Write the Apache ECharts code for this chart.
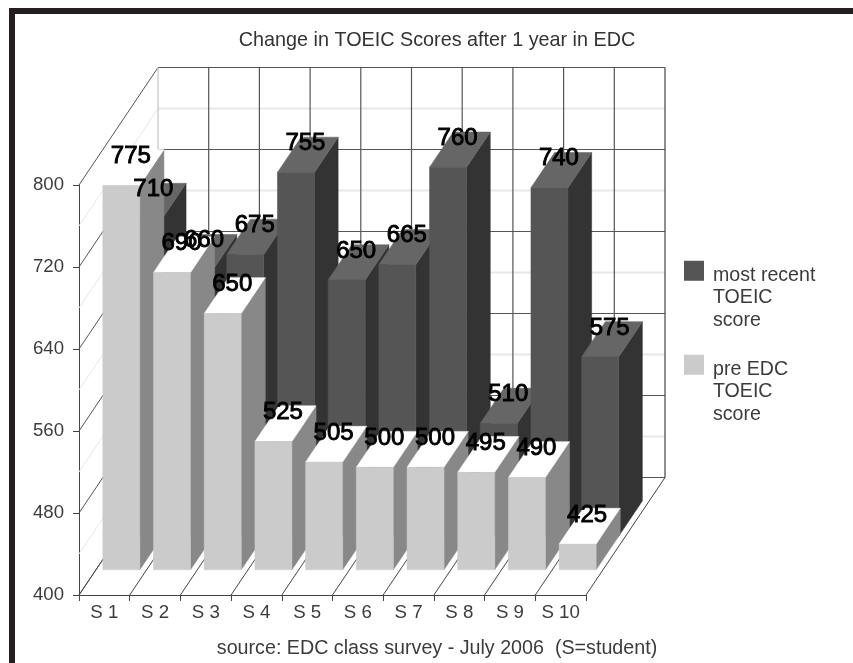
<!DOCTYPE html>
<html>
<head>
<meta charset="utf-8">
<style>
html,body{margin:0;padding:0;background:#fff}
#c{width:853px;height:663px}
#c canvas{filter:blur(0.72px)}
</style>
<script src="https://cdn.jsdelivr.net/npm/echarts@6/dist/echarts.min.js"></script>
</head>
<body>
<div id="c"></div>
<script>
const categories = ['S 1','S 2','S 3','S 4','S 5','S 6','S 7','S 8','S 9','S 10'];
const preScores = [775,690,650,525,505,500,500,495,490,425];
const recentScores = [710,660,675,755,650,665,760,510,740,575];
const valueTicks = [400,440,480,520,560,600,640,680,720,760,800];
const chartTitle = 'Change in TOEIC Scores after 1 year in EDC';
const sourceNote = 'source: EDC class survey - July 2006  (S=student)';
const recentName = 'most recent\nTOEIC\nscore';
const preName = 'pre EDC\nTOEIC\nscore';

const FONT = '"Liberation Sans"';
const TEXT = '#3c3c3c';
const DEPTH_X = 79, DEPTH_Y = -117.5;   // oblique projection of full chart depth
const BAR_W = 0.73;                     // share of a category band
const PRE_Z = [0.215, 0.52];
const RECENT_Z = [0.5, 0.8];

function project(api, i, off, v, z) {
  const p = api.coord([i, v]);
  const bw = api.size([1, 0])[0];
  return [p[0] + off * bw + z * DEPTH_X, p[1] + z * DEPTH_Y];
}
function poly(points, fill, z2) {
  return {type: 'polygon', z2: z2, shape: {points: points}, style: {fill: fill, stroke: fill, lineWidth: 0.5}};
}
function barRender(zr, front, side, top) {
  return function (params, api) {
    const i = api.value(0), v = api.value(1), a = -BAR_W / 2, b = BAR_W / 2, base = valueTicks[0];
    const P = (o, val, z) => project(api, i, o, val, z);
    return {type: 'group', children: [
      poly([P(a, base, zr[0]), P(b, base, zr[0]), P(b, v, zr[0]), P(a, v, zr[0])], front, i * 3 + 2),
      poly([P(b, base, zr[0]), P(b, base, zr[1]), P(b, v, zr[1]), P(b, v, zr[0])], side, i * 3),
      poly([P(a, v, zr[0]), P(b, v, zr[0]), P(b, v, zr[1]), P(a, v, zr[1])], top, i * 3 + 1)
    ]};
  };
}
function labelRender(zr) {
  return function (params, api) {
    const i = api.value(0), v = api.value(1);
    const p = project(api, i, 0, v, zr[0]);
    return {type: 'text', x: p[0] + 9.5, y: p[1] - 29, style: {
      text: String(v), fill: '#000', font: '24px ' + FONT, align: 'center', verticalAlign: 'middle',
      stroke: '#000', lineWidth: 0.9
    }};
  };
}
function line(a, b, color, w) {
  return {type: 'line', shape: {x1: a[0], y1: a[1], x2: b[0], y2: b[1]}, style: {stroke: color, lineWidth: w}};
}
function gridValueRender(params, api) {
  const v = api.value(0), major = (v - valueTicks[0]) % 80 === 0;
  const first = 0, last = categories.length - 1;
  const leftFront = project(api, first, -0.5, v, 0);
  const leftBack = project(api, first, -0.5, v, 1);
  const rightBack = project(api, last, 0.5, v, 1);
  const dark = '#555', pale = '#e8e8e8';
  return {type: 'group', children: [
    line(leftFront, leftBack, major ? dark : pale, 1),
    line(leftBack, rightBack, major ? dark : pale, major ? 1.2 : 2)
  ]};
}
function gridCatRender(params, api) {
  const i = api.value(0);
  const lo = valueTicks[0], hi = valueTicks[valueTicks.length - 1];
  const floorFront = project(api, i, -0.5, lo, 0);
  const floorBack = project(api, i, -0.5, lo, 1);
  const wallTop = project(api, i, -0.5, hi, 1);
  const kids = [line(floorFront, floorBack, '#444', 1), line(floorBack, wallTop, i === 0 ? '#c4c4c4' : '#555', 1.2)];
  if (i === categories.length - 1) {
    const f = project(api, i, 0.5, lo, 0), b = project(api, i, 0.5, lo, 1), t = project(api, i, 0.5, hi, 1);
    kids.push(line(f, b, '#444', 1), line(b, t, '#444', 1.2));
  }
  return {type: 'group', children: kids};
}

const toPairs = arr => arr.map((v, i) => [i, v]);
const legendFormatter = name => '{s| }\n' + name.split('\n').map(t => '{t|' + t + '}').join('\n');
const legendText = {
  fontFamily: FONT, fontSize: 19.6, color: TEXT,
  rich: {
    s: {lineHeight: 54, fontSize: 10},
    t: {fontFamily: FONT, fontSize: 19.6, color: TEXT, lineHeight: 22.5, padding: [0, 0, 0, 4]}
  }
};

const option = {
  animation: false,
  backgroundColor: '#fff',
  title: [
    {text: chartTitle, left: 432, top: 26, textAlign: 'center', textStyle: {fontFamily: FONT, fontSize: 19.8, fontWeight: 'normal', color: '#333'}},
    {text: sourceNote, left: 432, top: 634, textAlign: 'center', textStyle: {fontFamily: FONT, fontSize: 19.7, fontWeight: 'normal', color: TEXT}}
  ],
  graphic: [
    {type: 'rect', left: 9, top: 8, shape: {width: 844, height: 6}, style: {fill: '#231f20'}},
    {type: 'rect', left: 9, top: 8, shape: {width: 6, height: 655}, style: {fill: '#231f20'}}
  ],
  legend: [
    {data: [recentName], left: 679, top: 227, orient: 'vertical', icon: 'rect', itemWidth: 20, itemHeight: 20, selectedMode: false, formatter: legendFormatter, textStyle: legendText},
    {data: [preName], left: 679, top: 321, orient: 'vertical', icon: 'rect', itemWidth: 20, itemHeight: 20, selectedMode: false, formatter: legendFormatter, textStyle: legendText}
  ],
  grid: {left: 79, top: 185, width: 507, height: 410},
  xAxis: {
    type: 'category', data: categories,
    axisLine: {lineStyle: {color: '#444', width: 1}},
    axisTick: {show: true, length: 6, lineStyle: {color: '#444'}},
    axisLabel: {fontFamily: FONT, fontSize: 18.7, color: TEXT, margin: 8, interval: 0}
  },
  yAxis: {
    type: 'value', min: 400, max: 800, interval: 80,
    axisLine: {show: true, lineStyle: {color: '#444', width: 1}},
    axisTick: {show: true, length: 6, lineStyle: {color: '#444'}},
    axisLabel: {fontFamily: FONT, fontSize: 18.6, color: TEXT, margin: 15, padding: [7, 0, 0, 0]},
    splitLine: {show: false}
  },
  series: [
    {type: 'custom', name: 'grid values', z: 1, silent: true, data: valueTicks.map(v => [v]), renderItem: gridValueRender, encode: {y: 0}},
    {type: 'custom', name: 'grid categories', z: 1, silent: true, data: categories.map((c, i) => [i]), renderItem: gridCatRender, encode: {x: 0}},
    {type: 'custom', name: recentName, z: 3, itemStyle: {color: '#555'}, data: toPairs(recentScores), encode: {x: 0, y: 1},
      renderItem: barRender(RECENT_Z, '#555', '#333', '#666')},
    {type: 'custom', name: preName, z: 4, itemStyle: {color: '#cbcbcb'}, data: toPairs(preScores), encode: {x: 0, y: 1},
      renderItem: barRender(PRE_Z, '#cbcbcb', '#888', '#fff')},
    {type: 'custom', name: 'recent labels', z: 5, silent: true, data: toPairs(recentScores), encode: {x: 0, y: 1}, renderItem: labelRender(RECENT_Z)},
    {type: 'custom', name: 'pre labels', z: 5, silent: true, data: toPairs(preScores), encode: {x: 0, y: 1}, renderItem: labelRender(PRE_Z)}
  ]
};
echarts.init(document.getElementById('c'), null, {renderer: 'canvas'}).setOption(option);
</script>
</body>
</html>
